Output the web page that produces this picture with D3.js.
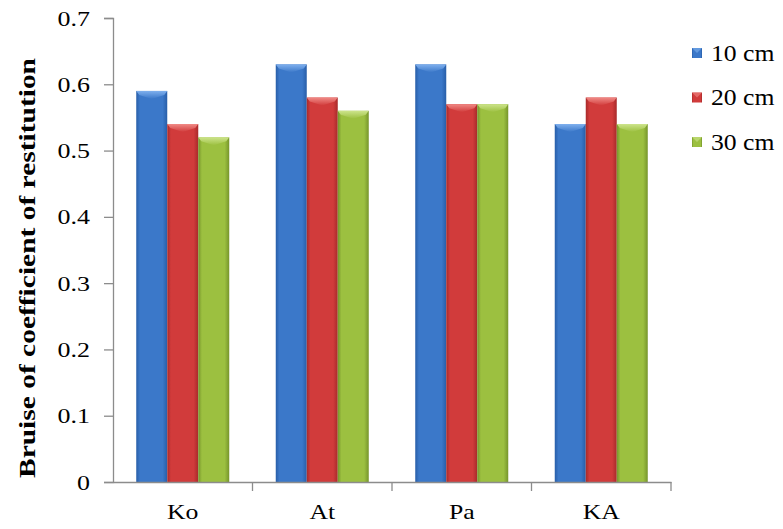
<!DOCTYPE html>
<html>
<head>
<meta charset="utf-8">
<script src="https://cdn.jsdelivr.net/npm/d3@7"></script>
<style>
  html, body { margin: 0; padding: 0; background: #fff; }
  svg { display: block; }
  text { font-family: "Liberation Serif", "Times New Roman", serif; fill: #000; }
</style>
</head>
<body>
<svg id="chart" width="783" height="529"></svg>
<script>
// Data
const categories = ["Ko", "At", "Pa", "KA"];
const seriesNames = ["10 cm", "20 cm", "30 cm"];
const values10 = [0.59, 0.63, 0.63, 0.54];
const values20 = [0.54, 0.58, 0.57, 0.58];
const values30 = [0.52, 0.56, 0.57, 0.54];
const yTicks = [0, 0.1, 0.2, 0.3, 0.4, 0.5, 0.6, 0.7];

const seriesValues = [values10, values20, values30];
const palette = [
  { base: "#3b78c9", dark: "#285ea8", light: "#7fb0ee" },
  { base: "#d13b3b", dark: "#a82a2a", light: "#f08a86" },
  { base: "#9cc040", dark: "#76952b", light: "#cde48c" }
];

const svg = d3.select("#chart");
const margin = { left: 113, right: 112, top: 18, bottom: 47 };
const W = 783, H = 529;
const plotW = W - margin.left - margin.right;
const plotH = H - margin.top - margin.bottom;

const x = d3.scaleBand().domain(categories).range([margin.left, margin.left + plotW]).paddingInner(0).paddingOuter(0);
// 150% gap width: each group of three bars occupies 3/4.5 of the band
const groupW = x.bandwidth() * 3 / 4.5;
const x1 = d3.scaleBand().domain(d3.range(3)).range([0, groupW]);
const groupOffset = (x.bandwidth() - groupW) / 2;
const y = d3.scaleLinear().domain([0, 0.7]).range([margin.top + plotH, margin.top]);

// widen glyphs horizontally by factor k while keeping the text anchor in place
function widen(sel, k) {
  sel.each(function() {
    const ax = +(this.getAttribute("x") || 0);
    d3.select(this).attr("transform", `translate(${ax * (1 - k)},0) scale(${k},1)`);
  });
}

const defs = svg.append("defs");
palette.forEach((p, i) => {
  const g = defs.append("linearGradient").attr("id", "bar" + i).attr("x1", 0).attr("x2", 1).attr("y1", 0).attr("y2", 0);
  g.append("stop").attr("offset", "0%").attr("stop-color", p.dark);
  g.append("stop").attr("offset", "12%").attr("stop-color", p.base);
  g.append("stop").attr("offset", "85%").attr("stop-color", p.base);
  g.append("stop").attr("offset", "100%").attr("stop-color", p.dark);
  const t = defs.append("linearGradient").attr("id", "cap" + i).attr("x1", 0).attr("x2", 0).attr("y1", 0).attr("y2", 1);
  t.append("stop").attr("offset", "0%").attr("stop-color", p.light);
  t.append("stop").attr("offset", "100%").attr("stop-color", p.base);
});

// Y axis
const axisColor = "#8c8c8c";
const yAxis = svg.append("g")
  .attr("transform", `translate(${margin.left},0)`)
  .call(d3.axisLeft(y).tickValues(yTicks).tickSize(9).tickPadding(14).tickFormat(d => d === 0 ? "0" : d3.format(".1f")(d)));
yAxis.select(".domain").attr("stroke", axisColor).attr("stroke-width", 1.3);
yAxis.selectAll(".tick line").attr("stroke", axisColor).attr("stroke-width", 1.3);
yAxis.selectAll(".tick text").attr("font-size", 22).attr("fill", "#000").call(widen, 1.18);

// Bars
const gGroups = svg.append("g").selectAll("g")
  .data(categories)
  .join("g")
  .attr("transform", d => `translate(${x(d) + groupOffset},0)`);

gGroups.each(function(cat, ci) {
  const g = d3.select(this);
  seriesValues.forEach((vals, si) => {
    const v = vals[ci];
    const bx = x1(si), bw = x1.bandwidth();
    const top = y(v), bottom = y(0);
    g.append("rect")
      .attr("x", bx).attr("y", top)
      .attr("width", bw).attr("height", bottom - top)
      .attr("fill", `url(#bar${si})`);
    // bevelled top
    const cap = 8;
    g.append("path")
      .attr("d", `M${bx},${top} L${bx + bw},${top} L${bx + bw - 3},${top + 4} L${bx + bw / 2},${top + cap} L${bx + 3},${top + 4} Z`)
      .attr("fill", `url(#cap${si})`);
  });
});

// X axis (drawn over bar bases)
const xAxis = svg.append("g")
  .attr("transform", `translate(0,${y(0)})`)
  .call(d3.axisBottom(x).tickSize(0).tickPadding(21));
xAxis.select(".domain").attr("stroke", axisColor).attr("stroke-width", 1.3);
xAxis.selectAll(".tick text").attr("font-size", 22).attr("fill", "#000").call(widen, 1.17);
// boundary tick marks between categories
const bounds = categories.map(c => x(c)).concat([x(categories[categories.length - 1]) + x.bandwidth()]).slice(1);
xAxis.selectAll(".bound").data(bounds).join("line")
  .attr("class", "bound")
  .attr("x1", d => d).attr("x2", d => d).attr("y1", 0).attr("y2", 9)
  .attr("stroke", axisColor).attr("stroke-width", 1.3);

// Y axis title
svg.append("text")
  .attr("transform", `translate(35,268) rotate(-90)`)
  .attr("text-anchor", "middle")
  .attr("font-size", 23)
  .attr("font-weight", "bold")
  .attr("textLength", 420)
  .attr("lengthAdjust", "spacingAndGlyphs")
  .text("Bruise of coefficient of restitution");

// Legend
const legend = svg.append("g").attr("transform", "translate(692,53)");
seriesNames.forEach((name, i) => {
  const row = legend.append("g").attr("transform", `translate(0,${i * 44.5})`);
  row.append("rect").attr("x", 0).attr("y", -5).attr("width", 10).attr("height", 10).attr("fill", `url(#bar${i})`);
  row.append("path").attr("d", "M0,-5 L10,-5 L5,0 Z").attr("fill", palette[i].light).attr("opacity", 0.6);
  row.append("text").attr("x", 19).attr("y", 7.5).attr("font-size", 24).text(name).call(widen, 1.07);
});
</script>
</body>
</html>
